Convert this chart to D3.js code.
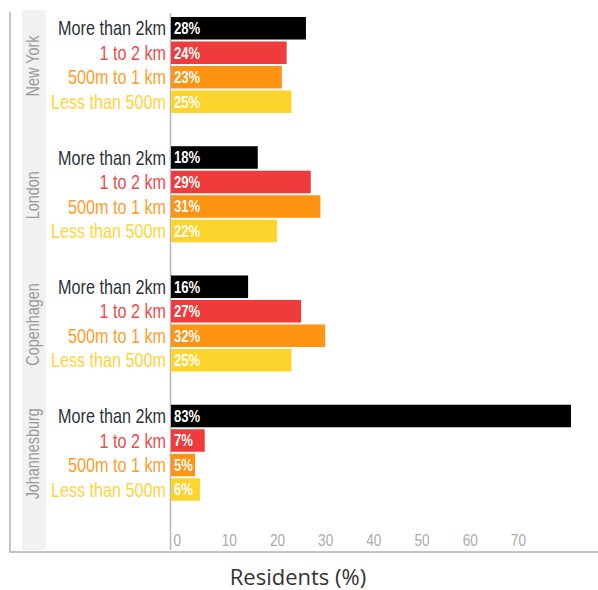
<!DOCTYPE html>
<html>
<head>
<meta charset="utf-8">
<script src="https://cdn.jsdelivr.net/npm/d3@7"></script>
<style>
  html, body { margin: 0; padding: 0; background: #fff; }
  svg { display: block; }
</style>
</head>
<body>
<svg id="chart" width="598" height="590"></svg>
<script>
// Share of residents by distance to nearest green space, per city
const cities = ["New York", "London", "Copenhagen", "Johannesburg"];
const distances = ["More than 2km", "1 to 2 km", "500m to 1 km", "Less than 500m"];
const moreThan2km = [28, 18, 16, 83];
const oneTo2km = [24, 29, 27, 7];
const halfTo1km = [23, 31, 32, 5];
const lessThan500m = [25, 22, 25, 6];
const tickValues = [0, 10, 20, 30, 40, 50, 60, 70];
const distanceColors = ["#000000", "#ef3b3b", "#ff9412", "#fdd42b"];
const labelColors = ["#2b3338", "#f04a4a", "#ff9d2a", "#ffd43a"];

const seriesByDistance = [moreThan2km, oneTo2km, halfTo1km, lessThan500m];
const rows = [];
cities.forEach((city, ci) => {
  distances.forEach((dist, di) => {
    rows.push({ city, dist, di, value: seriesByDistance[di][ci] });
  });
});

const svg = d3.select("#chart");
const sans = "'Liberation Sans', Arial, sans-serif";
const squeeze = 0.83; // horizontal squeeze gives a narrow face

const x = d3.scaleLinear().domain([0, 83]).range([171, 571]);
const facet = d3.scaleBand().domain(cities).range([10, 527]);
const inner = d3.scaleBand().domain(distances).range([6, 104])
  .paddingInner(0.08).paddingOuter(0.04);

// frame lines and facet header strip
svg.append("rect").attr("x", 22).attr("y", 10).attr("width", 24).attr("height", 540)
  .attr("fill", "#f1f1f1");
svg.append("line").attr("x1", 10).attr("x2", 10).attr("y1", 12).attr("y2", 553)
  .attr("stroke", "#c4c4c4").attr("stroke-width", 2);
svg.append("line").attr("x1", 9).attr("x2", 598).attr("y1", 552).attr("y2", 552)
  .attr("stroke", "#c4c4c4").attr("stroke-width", 2);
svg.append("line").attr("x1", x(0) - 0.5).attr("x2", x(0) - 0.5).attr("y1", 13).attr("y2", 550)
  .attr("stroke", "#b8b8b8").attr("stroke-width", 1.5);

// city labels in the strip
svg.append("g").selectAll("text").data(cities).join("text")
  .attr("transform", d => `translate(39,${facet(d) + 56}) rotate(-90) scale(0.8,1)`)
  .attr("text-anchor", "middle")
  .attr("font-family", sans).attr("font-size", 18)
  .attr("fill", "#9a9a9a")
  .text(d => d);

const groups = svg.append("g").selectAll("g").data(cities).join("g")
  .attr("transform", d => `translate(0,${facet(d)})`);

groups.each(function (city) {
  const g = d3.select(this);
  const data = rows.filter(r => r.city === city);

  g.selectAll("rect.bar").data(data).join("rect")
    .attr("class", "bar")
    .attr("x", x(0))
    .attr("y", d => inner(d.dist))
    .attr("width", d => x(d.value) - x(0))
    .attr("height", inner.bandwidth())
    .attr("fill", d => distanceColors[d.di]);

  g.selectAll("text.cat").data(data).join("text")
    .attr("class", "cat")
    .attr("transform", d =>
      `translate(${x(0) - 5},${inner(d.dist) + inner.bandwidth() / 2}) scale(${squeeze},1)`)
    .attr("dy", "0.36em")
    .attr("text-anchor", "end")
    .attr("font-family", sans).attr("font-size", 19.5)
    .attr("fill", d => labelColors[d.di])
    .text(d => d.dist);

  g.selectAll("text.val").data(data).join("text")
    .attr("class", "val")
    .attr("transform", d =>
      `translate(${x(0) + 3},${inner(d.dist) + inner.bandwidth() / 2}) scale(0.82,1)`)
    .attr("dy", "0.36em")
    .attr("font-family", sans).attr("font-size", 16).attr("font-weight", "bold")
    .attr("fill", "#ffffff")
    .text(d => d.value + "%");
});

// x axis tick labels
const axis = d3.axisBottom(x).tickValues(tickValues).tickSize(0).tickPadding(0);
const axisG = svg.append("g").attr("transform", "translate(0,534)").call(axis);
axisG.select(".domain").remove();
axisG.selectAll(".tick text")
  .attr("text-anchor", "start")
  .attr("transform", "translate(2,0) scale(0.8,1)")
  .attr("dy", "0.7em")
  .attr("font-family", sans).attr("font-size", 17)
  .attr("fill", "#ababab");

svg.append("text")
  .attr("x", 298).attr("y", 585)
  .attr("text-anchor", "middle")
  .attr("font-family", "'Open Sans', sans-serif").attr("font-size", 22)
  .attr("fill", "#333")
  .text("Residents (%)");
</script>
</body>
</html>
